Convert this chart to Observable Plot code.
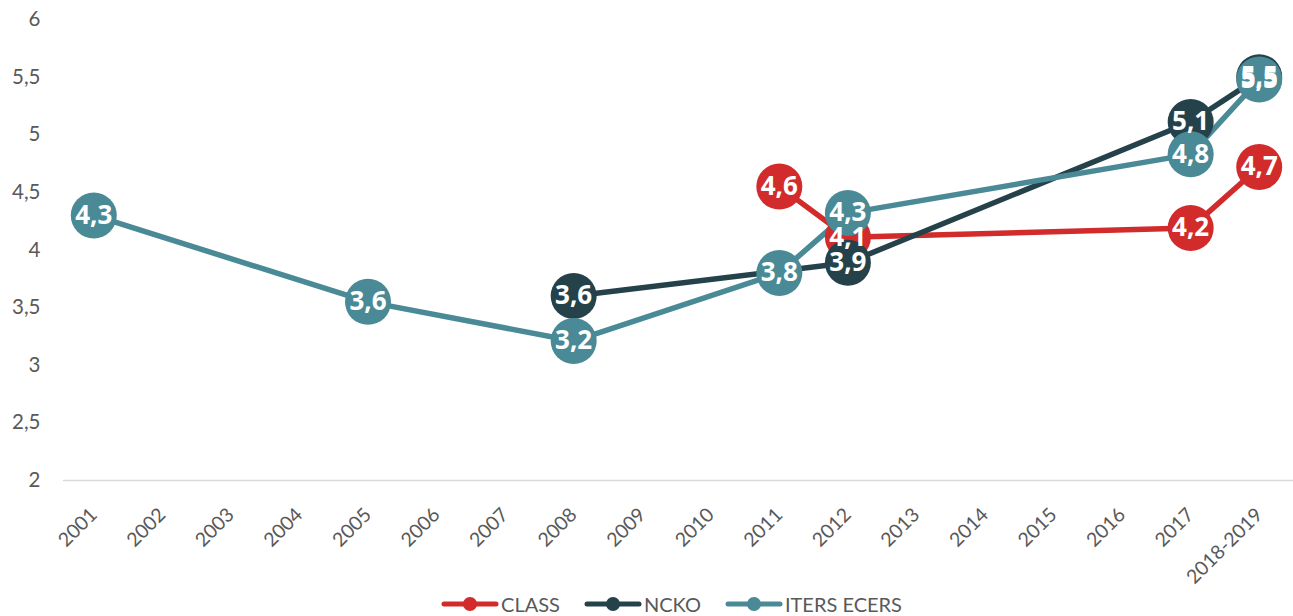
<!DOCTYPE html>
<html>
<head>
<meta charset="utf-8">
<script src="https://cdn.jsdelivr.net/npm/d3@7"></script>
<script src="https://cdn.jsdelivr.net/npm/@observablehq/plot@0.6"></script>
<style>
  html, body { margin: 0; padding: 0; background: #ffffff; overflow: hidden; }
  #chart svg { display: block; }
  #legend {
    display: flex; justify-content: center; align-items: center;
    height: 24px; font-family: Lato, "Open Sans", sans-serif; font-size: 20px; color: #595959;
    margin-left: 50px;
  }
  .item { display: flex; align-items: center; margin: 0 12px; }
  .item svg { margin-right: 2px; }
</style>
</head>
<body>
<div id="chart"></div>
<div id="legend"></div>
<script>
const categories = ["2001","2002","2003","2004","2005","2006","2007","2008","2009","2010","2011","2012","2013","2014","2015","2016","2017","2018-2019"];
const seriesNames = ["CLASS", "NCKO", "ITERS ECERS"];
const seriesColors = ["#d12b2b", "#25424a", "#4a8a96"];
const classValues = [null,null,null,null,null,null,null,null,null,null,4.55,4.11,null,null,null,null,4.19,4.72];
const classLabels = [null,null,null,null,null,null,null,null,null,null,"4,6","4,1",null,null,null,null,"4,2","4,7"];
const nckoValues  = [null,null,null,null,null,null,null,3.60,null,null,null,3.89,null,null,null,null,5.11,5.50];
const nckoLabels  = [null,null,null,null,null,null,null,"3,6",null,null,null,"3,9",null,null,null,null,"5,1","5,5"];
const itersValues = [4.30,null,null,null,3.55,null,null,3.21,null,null,3.80,4.32,null,null,null,null,4.83,5.48];
const itersLabels = ["4,3",null,null,null,"3,6",null,null,"3,2",null,null,"3,8","4,3",null,null,null,null,"4,8","5,5"];
const yTicks = [2, 2.5, 3, 3.5, 4, 4.5, 5, 5.5, 6];

const allValues = [classValues, nckoValues, itersValues];
const allLabels = [classLabels, nckoLabels, itersLabels];
const data = [];
seriesNames.forEach((s, si) => {
  categories.forEach((c, i) => {
    const v = allValues[si][i];
    if (v != null) data.push({series: s, year: c, value: v, label: allLabels[si][i]});
  });
});

const color = {domain: seriesNames, range: seriesColors};

const chart = Plot.plot({
  width: 1293,
  height: 592,
  marginLeft: 59,
  marginRight: 0,
  marginTop: 19,
  marginBottom: 112,
  style: {fontFamily: "Lato, 'Open Sans', sans-serif", fontSize: "20px", color: "#595959", background: "#ffffff"},
  x: {type: "point", domain: categories, padding: 0.5, round: false, label: null},
  y: {domain: [2, 6], label: null},
  color: color,
  marks: [
    Plot.ruleY([2], {stroke: "#d9d9d9", strokeWidth: 1.5, insetLeft: 4}),
    Plot.axisY({ticks: yTicks, tickFormat: d => String(d).replace(".", ","), tickSize: 0, tickPadding: 19, fontSize: 20.5, fill: "#595959"}),
    Plot.axisX({tickSize: 0, tickRotate: -45, tickPadding: 31, fontSize: 19.5, fill: "#595959"}),
    Plot.line(data, {x: "year", y: "value", z: "series", stroke: "series", strokeWidth: 5.5, curve: "linear"}),
    Plot.dot(data, {x: "year", y: "value", fill: "series", r: 23, stroke: "none"}),
    Plot.text(data, {x: "year", y: "value", text: "label", fill: "#ffffff", fontSize: 26, fontWeight: "bold", fontFamily: "'Open Sans', sans-serif"})
  ]
});
document.getElementById("chart").appendChild(chart);

const legend = document.getElementById("legend");
seriesNames.forEach((s, i) => {
  const item = document.createElement("div");
  item.className = "item";
  item.innerHTML = `<svg width="58" height="16"><line x1="3" y1="8" x2="55" y2="8" stroke="${seriesColors[i]}" stroke-width="5" stroke-linecap="round"/><circle cx="29" cy="8" r="7" fill="${seriesColors[i]}"/></svg><span>${s}</span>`;
  legend.appendChild(item);
});
</script>
</body>
</html>
